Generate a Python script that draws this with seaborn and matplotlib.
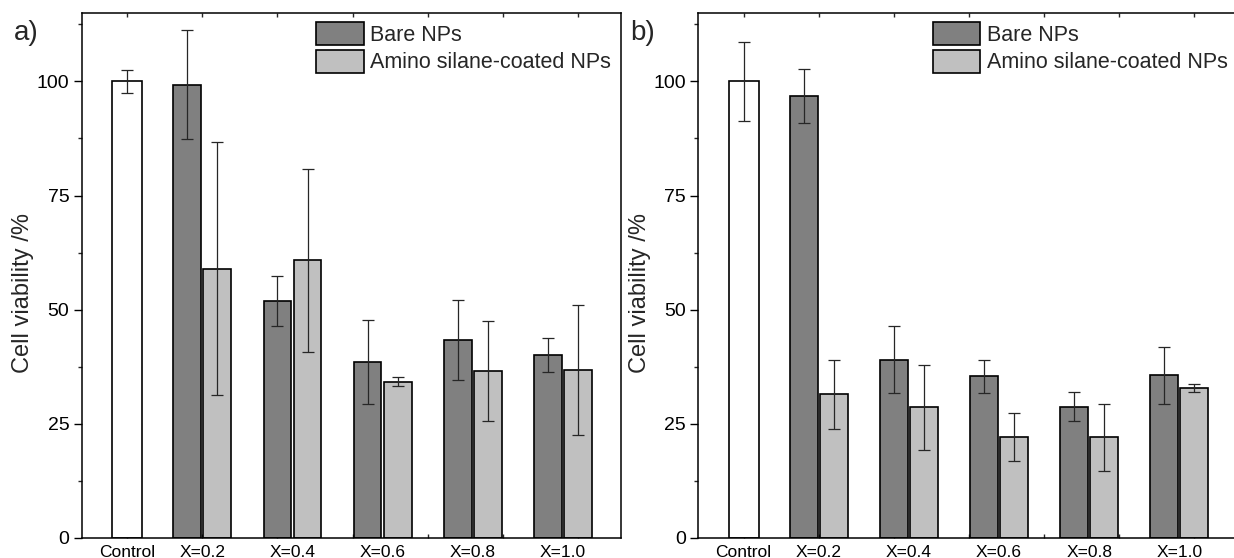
import numpy as np
import pandas as pd
import matplotlib
matplotlib.use("Agg")
import matplotlib.pyplot as plt
from matplotlib.patches import Patch
import seaborn as sns

# ---------------- data ----------------
categories = ["Control", "X=0.2", "X=0.4", "X=0.6", "X=0.8", "X=1.0"]
series = ["Bare NPs", "Amino silane-coated NPs"]

# panel a
a_control = 100.0
a_control_err = 2.5
a_bare = [99.3, 51.8, 38.5, 43.3, 40.1]
a_bare_err = [11.9, 5.5, 9.2, 8.8, 3.7]
a_amino = [59.0, 60.8, 34.2, 36.5, 36.8]
a_amino_err = [27.8, 20.1, 1.0, 11.0, 14.3]

# panel b
b_control = 100.0
b_control_err = 8.6
b_bare = [96.9, 39.0, 35.4, 28.7, 35.6]
b_bare_err = [5.9, 7.3, 3.6, 3.2, 6.3]
b_amino = [31.4, 28.6, 22.0, 22.0, 32.8]
b_amino_err = [7.6, 9.3, 5.3, 7.4, 0.8]

panel_labels = ["a)", "b)"]
y_label = "Cell viability /%"

# ---------------- style ----------------
sns.set_theme(style="ticks")
plt.rcParams["font.family"] = ["Liberation Sans", "DejaVu Sans"]
plt.rcParams["axes.linewidth"] = 1.1
plt.rcParams["axes.edgecolor"] = "black"

colors = {"Control": "#ffffff", "Bare NPs": "#808080",
          "Amino silane-coated NPs": "#c0c0c0"}

W, H = 12.34, 5.58
fig = plt.figure(figsize=(W, H), dpi=100)
ax_w = 0.4372
ax_b = 0.0364
ax_h = 0.9403
axes = [fig.add_axes([0.0663, ax_b, ax_w, ax_h]),
        fig.add_axes([0.5658, ax_b, ax_w, ax_h])]

group_pos = 1 + 1.2 * np.arange(len(categories) - 1)
off = 0.2
bar_w = 0.37

panels = [
    (a_control, a_control_err, a_bare, a_bare_err, a_amino, a_amino_err),
    (b_control, b_control_err, b_bare, b_bare_err, b_amino, b_amino_err),
]

for ax, (c, ce, bare, bare_e, amino, amino_e), plabel in zip(axes, panels, panel_labels):
    df = pd.DataFrame({
        "pos": np.concatenate([group_pos - off, group_pos + off]),
        "value": np.concatenate([bare, amino]),
        "err": np.concatenate([bare_e, amino_e]),
        "series": [series[0]] * len(bare) + [series[1]] * len(amino),
    })
    dfc = pd.DataFrame({"pos": [0.0], "value": [c], "err": [ce], "series": ["Control"]})

    sns.barplot(data=dfc, x="pos", y="value", hue="series", palette=colors,
                native_scale=True, orient="x", width=0.40, dodge=False,
                edgecolor="black", linewidth=1.2, legend=False, ax=ax,
                errorbar=None)
    sns.barplot(data=df, x="pos", y="value", hue="series", hue_order=series,
                palette=colors, native_scale=True, orient="x",
                width=bar_w / 0.4, dodge=False, edgecolor="black",
                linewidth=1.2, legend=False, ax=ax, errorbar=None)

    allp = pd.concat([dfc, df])
    ax.errorbar(allp["pos"], allp["value"], yerr=allp["err"], fmt="none",
                ecolor="#262626", elinewidth=0.9, capsize=4, capthick=0.9,
                zorder=5)

    ax.set_xlim(-0.605, 6.578)
    ax.set_ylim(0, 115)

    # y axis
    ax.set_yticks([0, 25, 50, 75, 100])
    ax.set_yticks(np.arange(12.5, 115, 25), minor=True)
    ax.tick_params(axis="y", which="major", direction="out", length=6,
                   width=1.0, labelsize=14, pad=3, left=True, right=False,
                   colors="black")
    ax.tick_params(axis="y", which="minor", direction="out", length=3,
                   width=1.0, left=True, right=False)
    ax.set_ylabel(y_label, fontsize=17)
    ax.yaxis.set_label_coords(-0.088, 0.466)

    # x axis: unlabeled inward ticks, labels at categories
    ax.xaxis.remove_overlapping_locs = False
    ax.set_xticks(np.arange(0, 7))
    ax.set_xticklabels([])
    ax.tick_params(axis="x", which="major", direction="in", length=3,
                   width=1.0, top=True, bottom=True)
    ax.set_xticks(np.concatenate([[0.0], group_pos]), minor=True)
    ax.set_xticklabels(categories, minor=True)
    ax.tick_params(axis="x", which="minor", length=0, labelsize=12.5, pad=5,
                   colors="black", top=False)
    ax.set_xlabel("")

    for s in ax.spines.values():
        s.set_visible(True)
        s.set_color("black")
        s.set_linewidth(1.1)

    handles = [Patch(facecolor=colors[s], edgecolor="black", linewidth=1.2)
               for s in series]
    ax.legend(handles, series, loc="upper left", bbox_to_anchor=(0.435, 0.983),
              frameon=False, fontsize=15.5, handlelength=2.2,
              handleheight=1.25, handletextpad=0.3, labelspacing=0.2,
              borderpad=0, borderaxespad=0)

    bb = ax.get_position()
    fig.text(bb.x0 - 0.055, 0.94, plabel, fontsize=20, ha="left", va="center")

fig.savefig("out.png", dpi=100)
